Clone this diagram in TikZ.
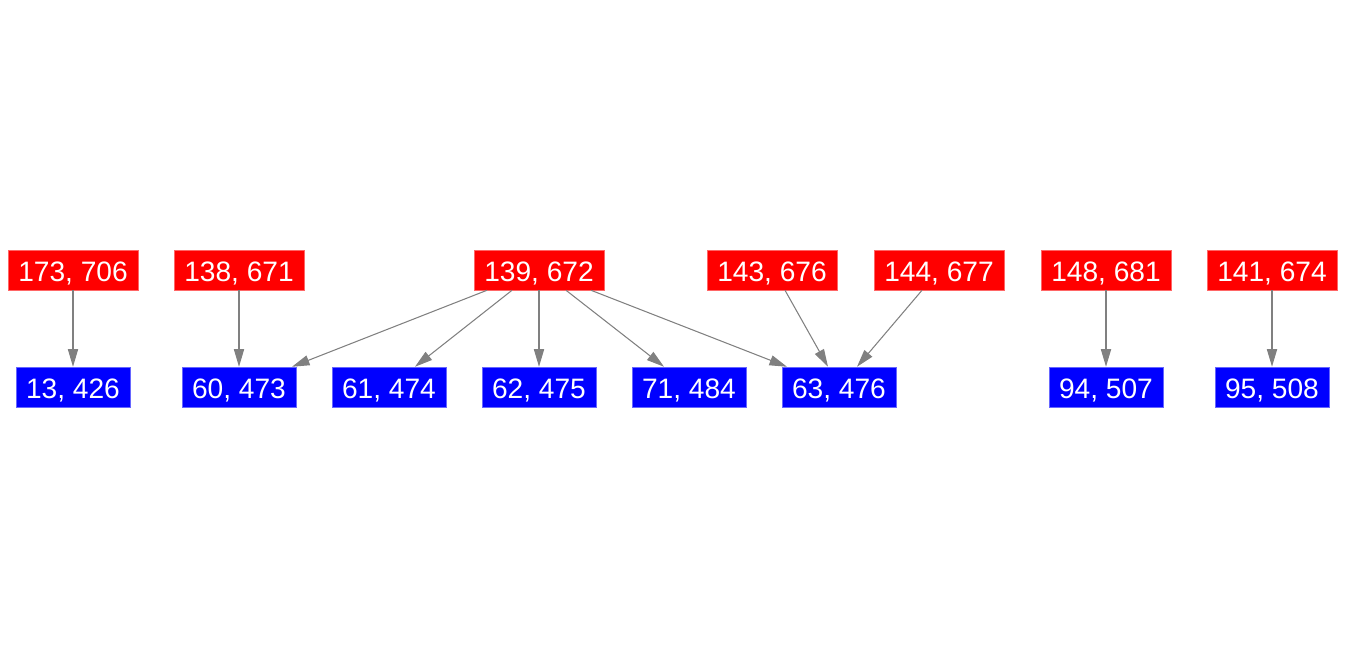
\documentclass[tikz,border=0pt]{standalone}
\usepackage{fontspec}
\setmainfont{Liberation Sans}
\usetikzlibrary{arrows.meta}
\begin{document}
\begin{tikzpicture}[x=0.02cm,y=-0.02cm]
    \tikzset{src/.style = {fill=red,draw=red!60,line width=0.3pt,text=white,minimum width=2.6cm,minimum height=0.8cm,inner sep=0pt,text height=13.4pt,text depth=0pt,font=\fontsize{16}{18}\selectfont},
             dst/.style = {src,fill=blue,draw=blue!60,minimum width=2.28cm},
             edge/.style = {draw=gray,line width=0.6pt,-{Triangle[length=10pt,width=5.8pt]}}}
    \useasboundingbox (0,0) rectangle (1346,656);
    % top row
    \node[src] (a173) at (73,270) {173, 706};
    \node[src] (a138) at (239,270) {138, 671};
    \node[src] (a139) at (539,270) {139, 672};
    \node[src] (a143) at (772,270) {143, 676};
    \node[src] (a144) at (939,270) {144, 677};
    \node[src] (a148) at (1106,270) {148, 681};
    \node[src] (a141) at (1272,270) {141, 674};
    % bottom row
    \node[dst] (b13) at (73,387) {13, 426};
    \node[dst] (b60) at (239,387) {60, 473};
    \node[dst] (b61) at (389,387) {61, 474};
    \node[dst] (b62) at (539,387) {62, 475};
    \node[dst] (b71) at (689,387) {71, 484};
    \node[dst] (b63) at (839,387) {63, 476};
    \node[dst] (b94) at (1106,387) {94, 507};
    \node[dst] (b95) at (1272,387) {95, 508};
    % edges
    \draw[edge] (a173) -- (b13);
    \draw[edge] (a138) -- (b60);
    \draw[edge] ([xshift=-1.04cm]a139.south) -- ([xshift=1.06cm]b60.north);
    \draw[edge] ([xshift=-0.54cm]a139.south) -- ([xshift=0.52cm]b61.north);
    \draw[edge] (a139) -- (b62);
    \draw[edge] ([xshift=0.54cm]a139.south) -- ([xshift=-0.5cm]b71.north);
    \draw[edge] ([xshift=1.04cm]a139.south) -- ([xshift=-1.04cm]b63.north);
    \draw[edge] ([xshift=0.26cm]a143.south) -- ([xshift=-0.22cm]b63.north);
    \draw[edge] ([xshift=-0.34cm]a144.south) -- ([xshift=0.36cm]b63.north);
    \draw[edge] (a148) -- (b94);
    \draw[edge] (a141) -- (b95);
\end{tikzpicture}
\end{document}
